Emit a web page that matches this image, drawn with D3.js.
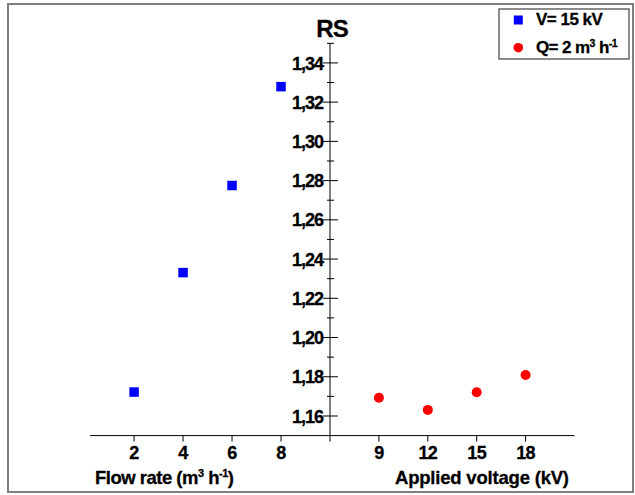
<!DOCTYPE html>
<html>
<head>
<meta charset="utf-8">
<script src="https://cdn.jsdelivr.net/npm/d3@7"></script>
<style>
  html, body { margin: 0; padding: 0; background: #fff; }
  svg { display: block; }
  text { font-family: "Liberation Sans", Arial, sans-serif; font-weight: bold; fill: #000; }
</style>
</head>
<body>
<script>
// ---- data ----
const flowRates = [2, 4, 6, 8];
const rsFlow = [1.1722, 1.2331, 1.2775, 1.3279];
const voltages = [9, 12, 15, 18];
const rsVoltage = [1.1693, 1.1631, 1.1721, 1.1809];
const yMajorTicks = [1.16, 1.18, 1.20, 1.22, 1.24, 1.26, 1.28, 1.30, 1.32, 1.34];
const yMinorTicks = [1.17, 1.19, 1.21, 1.23, 1.25, 1.27, 1.29, 1.31, 1.33, 1.35];
const flowTicks = [2, 4, 6, 8];
const voltTicks = [9, 12, 15, 18];
const title = "RS";
const legendLabels = ["V= 15 kV", "Q= 2 m3 h-1"];

const W = 635, H = 495;
const svg = d3.select("body").append("svg").attr("width", W).attr("height", H);

// outer frame
svg.append("rect").attr("x", 8).attr("y", 4).attr("width", 625).attr("height", 488)
  .attr("fill", "none").attr("stroke", "#7f7f7f").attr("stroke-width", 2);

const axisX = 330, axisY = 435.6;
const y = d3.scaleLinear().domain([1.15, 1.35]).range([435.6, 43.3]);
const xFlow = d3.scaleLinear().domain([0.2, 10]).range([90, axisX]);
const xVolt = d3.scaleLinear().domain([6, 21]).range([axisX, 574.5]);

// bottom axis line
svg.append("line").attr("x1", xFlow(0.2)).attr("x2", xVolt(21))
  .attr("y1", axisY).attr("y2", axisY).attr("stroke", "#000").attr("stroke-width", 1);

// y axis line (extends a bit below)
svg.append("line").attr("x1", axisX).attr("x2", axisX)
  .attr("y1", y(1.35)).attr("y2", axisY + 6).attr("stroke", "#000").attr("stroke-width", 1);

// y major ticks
svg.append("g").selectAll("line").data(yMajorTicks).join("line")
  .attr("x1", axisX - 7).attr("x2", axisX + 8)
  .attr("y1", d => y(d)).attr("y2", d => y(d)).attr("stroke", "#000");
svg.append("g").selectAll("line").data(yMinorTicks).join("line")
  .attr("x1", axisX - 3).attr("x2", axisX + 4)
  .attr("y1", d => y(d)).attr("y2", d => y(d)).attr("stroke", "#000");
svg.append("g").selectAll("text").data(yMajorTicks).join("text")
  .attr("x", axisX - 7).attr("y", d => y(d)).attr("dy", "0.37em")
  .attr("text-anchor", "end").attr("font-size", 18).attr("letter-spacing", "-1")
  .attr("stroke", "#000").attr("stroke-width", 0.3)
  .text(d => d3.format(".2f")(d).replace(".", ","));

// bottom ticks
function bottomTicks(scale, vals) {
  const g = svg.append("g");
  g.selectAll("line").data(vals).join("line")
    .attr("x1", d => scale(d)).attr("x2", d => scale(d))
    .attr("y1", axisY).attr("y2", axisY + 6).attr("stroke", "#000");
  g.selectAll("text").data(vals).join("text")
    .attr("x", d => scale(d)).attr("y", 459)
    .attr("text-anchor", "middle").attr("font-size", 18).attr("letter-spacing", "-0.6")
    .attr("stroke", "#000").attr("stroke-width", 0.3)
    .text(d => d);
}
bottomTicks(xFlow, flowTicks);
bottomTicks(xVolt, voltTicks);

// title
svg.append("text").attr("x", 332).attr("y", 37).attr("text-anchor", "middle")
  .attr("font-size", 24).attr("letter-spacing", "-0.8")
  .attr("stroke", "#000").attr("stroke-width", 0.3).text(title);

// axis titles
const t1 = svg.append("text").attr("x", 95).attr("y", 483.5).attr("font-size", 18.5)
  .attr("letter-spacing", "-0.5").attr("stroke", "#000").attr("stroke-width", 0.3);
t1.append("tspan").text("Flow rate (m");
t1.append("tspan").attr("dy", -7).attr("font-size", 11).text("3");
t1.append("tspan").attr("dy", 7).text(" h");
t1.append("tspan").attr("dy", -7).attr("font-size", 11).text("-1");
t1.append("tspan").attr("dy", 7).text(")");

svg.append("text").attr("x", 395).attr("y", 483.5).attr("font-size", 18.5).attr("letter-spacing", "-0.2")
  .attr("stroke", "#000").attr("stroke-width", 0.3)
  .text("Applied voltage (kV)");

// data markers
const flowData = flowRates.map((f, i) => ({x: f, y: rsFlow[i]}));
const voltData = voltages.map((v, i) => ({x: v, y: rsVoltage[i]}));
const sq = 9.5;
svg.append("g").selectAll("rect").data(flowData).join("rect")
  .attr("x", d => xFlow(d.x) - sq / 2).attr("y", d => y(d.y) - sq / 2)
  .attr("width", sq).attr("height", sq).attr("fill", "#0000ff");
svg.append("g").selectAll("circle").data(voltData).join("circle")
  .attr("cx", d => xVolt(d.x)).attr("cy", d => y(d.y)).attr("r", 5)
  .attr("fill", "#ff0000");

// legend
const lg = svg.append("g");
lg.append("rect").attr("x", 499).attr("y", 9).attr("width", 130).attr("height", 50)
  .attr("fill", "#fff").attr("stroke", "#404040").attr("stroke-width", 1.2);
lg.append("rect").attr("x", 518.3 - 4.5).attr("y", 20 - 4.5).attr("width", 9).attr("height", 9).attr("fill", "#0000ff");
lg.append("circle").attr("cx", 518.3).attr("cy", 47.7).attr("r", 4.8).attr("fill", "#ff0000");
lg.append("text").attr("x", 536).attr("y", 25).attr("font-size", 17).attr("letter-spacing", "-0.5")
  .attr("stroke", "#000").attr("stroke-width", 0.3).text(legendLabels[0]);
const lt = lg.append("text").attr("x", 536).attr("y", 53).attr("font-size", 17).attr("letter-spacing", "-0.6")
  .attr("stroke", "#000").attr("stroke-width", 0.3);
lt.append("tspan").text("Q= 2 m");
lt.append("tspan").attr("dy", -6).attr("font-size", 10.5).text("3");
lt.append("tspan").attr("dy", 6).text(" h");
lt.append("tspan").attr("dy", -6).attr("font-size", 10.5).text("-1");
</script>
</body>
</html>
